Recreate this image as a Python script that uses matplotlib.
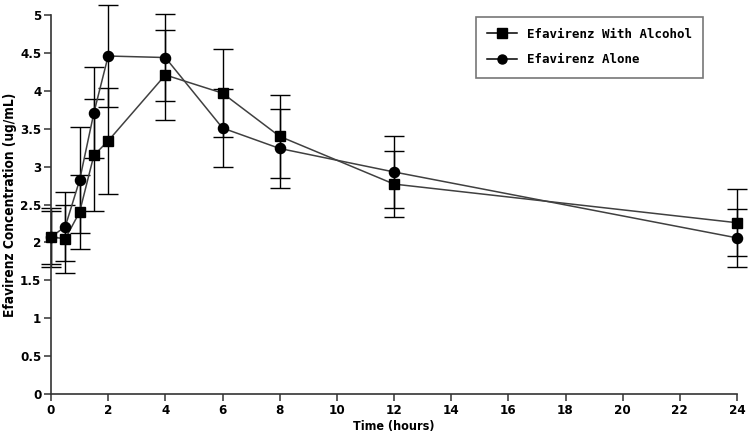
import numpy as np
import matplotlib.pyplot as plt

# DATA
time_h = [0, 0.5, 1, 1.5, 2, 4, 6, 8, 12, 24]

alcohol_mean = [2.07, 2.05, 2.40, 3.15, 3.34, 4.21, 3.97, 3.40, 2.77, 2.26]
alcohol_err = [0.35, 0.45, 0.49, 0.74, 0.70, 0.59, 0.58, 0.55, 0.44, 0.44]

alone_mean = [2.07, 2.21, 2.82, 3.71, 4.46, 4.44, 3.51, 3.24, 2.93, 2.06]
alone_err = [0.39, 0.46, 0.70, 0.60, 0.67, 0.58, 0.51, 0.52, 0.47, 0.38]

x_ticks = list(range(0, 25, 2))
y_ticks = [0, 0.5, 1, 1.5, 2, 2.5, 3, 3.5, 4, 4.5, 5]
y_ticklabels = ["0", "0.5", "1", "1.5", "2", "2.5", "3", "3.5", "4", "4.5", "5"]

TICK_FONT = ["DejaVu Sans"]

fig = plt.figure(figsize=(7.5, 4.44), dpi=100)
ax = fig.add_axes([0.068, 0.1126, 0.9147, 0.8534])

for mean, err, mk in [(alcohol_mean, alcohol_err, "s"), (alone_mean, alone_err, "o")]:
    eb = ax.errorbar(time_h, mean, yerr=err, fmt="none", ecolor="black",
                     elinewidth=1.0, capsize=7, capthick=1.0, zorder=2)
    for art in eb.lines[1] + eb.lines[2]:
        art.set_clip_on(False)
    ax.plot(time_h, mean, color="#404040", lw=1.1, zorder=3)
    ax.plot(time_h, mean, linestyle="none", marker=mk, color="black",
            markersize=7.3 if mk == "o" else 7, zorder=4, clip_on=False)

# legend proxies
h1, = ax.plot([], [], color="black", marker="s", markersize=6.5, lw=1.1)
h2, = ax.plot([], [], color="black", marker="o", markersize=6.5, lw=1.1)
leg = ax.legend([h1, h2], ["Efavirenz With Alcohol", "Efavirenz Alone"],
                loc="upper left", bbox_to_anchor=(0.619, 0.996),
                prop={"family": "DejaVu Sans Mono", "weight": "bold", "size": 9},
                frameon=True, fancybox=False, edgecolor="#555555",
                handlelength=2.4, borderpad=0.9, labelspacing=1.0,
                borderaxespad=0)
leg.get_frame().set_linewidth(1.2)

ax.set_xlim(0, 24)
ax.set_ylim(0, 5)
ax.set_xticks(x_ticks)
ax.set_yticks(y_ticks)
ax.set_yticklabels(y_ticklabels)

for s in ["top", "right"]:
    ax.spines[s].set_visible(False)
for s in ["left", "bottom"]:
    ax.spines[s].set_linewidth(1.2)
    ax.spines[s].set_color("#333333")

ax.tick_params(direction="out", length=5, width=1.1, color="#333333", pad=2)
for lbl in ax.get_xticklabels() + ax.get_yticklabels():
    lbl.set_family(TICK_FONT)
    lbl.set_fontweight("bold")
    lbl.set_fontstretch("condensed")
    lbl.set_fontsize(9.5)

ax.set_xlabel("Time (hours)", family=TICK_FONT, fontweight="bold", fontstretch="condensed",
              fontsize=9, labelpad=2)
ax.set_ylabel("Efavirenz Concentration (ug/mL)", family=TICK_FONT, fontweight="bold",
              fontstretch="condensed", fontsize=9.8, labelpad=2)

plt.savefig("out.png", dpi=100)
